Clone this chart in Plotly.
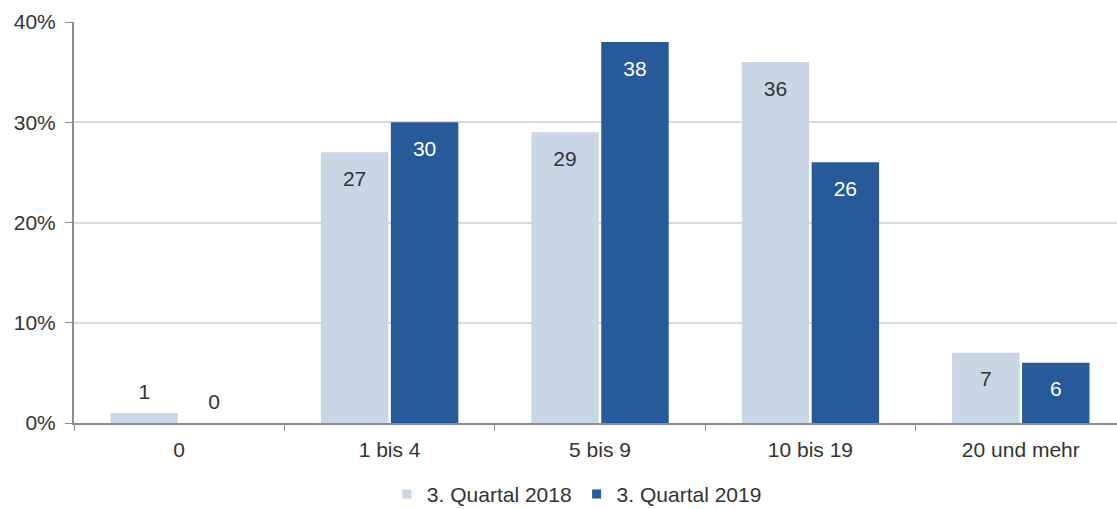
import plotly.graph_objects as go

# Data
categories = ["0", "1 bis 4", "5 bis 9", "10 bis 19", "20 und mehr"]
series_names = ["3. Quartal 2018", "3. Quartal 2019"]
q3_2018 = [1, 27, 29, 36, 7]
q3_2019 = [0, 30, 38, 26, 6]
y_ticks = [0, 10, 20, 30, 40]

light = "#c9d6e6"
dark = "#265a9a"
grey_text = "#333333"
font_family = "Liberation Sans, Arial, sans-serif"
fsize = 21

fig = go.Figure()

for name, vals, col, txtcol, grp in [
    (series_names[0], q3_2018, light, grey_text, "a"),
    (series_names[1], q3_2019, dark, "white", "b"),
]:
    fig.add_trace(go.Bar(
        x=categories, y=vals, name=name, offsetgroup=grp,
        marker=dict(color=col, line=dict(width=0)),
        hoverinfo="skip", showlegend=False,
    ))
    # value labels: below the bar top when the bar is tall enough, above otherwise
    small = [v < 3 for v in vals]
    fig.add_trace(go.Scatter(
        x=categories, y=vals, offsetgroup=grp, mode="markers+text",
        text=[str(v) for v in vals],
        textposition=["top center" if s else "bottom center" for s in small],
        textfont=dict(color=[grey_text if s else txtcol for s in small],
                      size=fsize, family=font_family),
        marker=dict(size=[13 if s else 27 for s in small], opacity=0),
        showlegend=False, hoverinfo="skip", cliponaxis=False,
    ))
    # legend entry with a small square
    fig.add_trace(go.Scatter(
        x=[None], y=[None], name=name, mode="markers",
        marker=dict(symbol="square", size=9, color=col),
    ))

# plot area runs slightly past the right edge of the window, as in the original
fig.update_layout(
    width=1126, height=509,
    margin=dict(l=74, r=0, t=22, b=86, autoexpand=False),
    plot_bgcolor="white", paper_bgcolor="white",
    font=dict(family=font_family, size=fsize, color=grey_text),
    barmode="group", bargap=0.335, bargroupgap=0.036,
    scattermode="group", scattergap=0.335,
    showlegend=True,
    legend=dict(orientation="h", x=0.478, xanchor="center", y=-0.178, yanchor="middle",
                font=dict(size=fsize), traceorder="normal"),
    xaxis=dict(showline=True, linecolor="#8c8c8c", linewidth=2,
               ticks="outside", tickson="boundaries", ticklen=6, tickcolor="#8c8c8c",
               showgrid=False, ticklabelstandoff=7, automargin=False),
    yaxis=dict(range=[0, 40], tickvals=y_ticks,
               ticktext=[f"{t}%" for t in y_ticks],
               showline=True, linecolor="#8c8c8c", linewidth=2,
               ticks="outside", ticklen=7, tickcolor="#8c8c8c",
               showgrid=True, gridcolor="#dadada", gridwidth=1.5,
               zeroline=False, ticklabelstandoff=5, automargin=False),
)

fig.write_html("out.html", config={"displayModeBar": False},
               post_script="document.body.style.margin='0px';"
                           "document.body.style.overflow='hidden';")
